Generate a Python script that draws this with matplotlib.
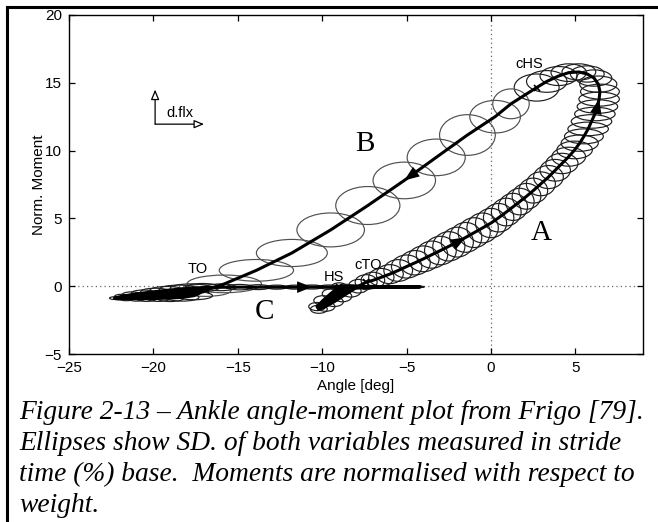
import matplotlib.pyplot as plt
from matplotlib.patches import Ellipse
from matplotlib.lines import Line2D

# mean ankle angle [deg] / normalised moment per stride sample, with SDs
# phase A: heel strike -> contralateral heel strike
angle_a = [-9.0, -9.5, -9.95, -10.3, -10.2, -9.8, -9.3, -8.8, -8.3, -7.85, -7.4,
           -7.0, -6.5, -6.0, -5.5, -5.0, -4.5, -4.0, -3.5, -3.0, -2.5, -2.0,
           -1.5, -1.0, -0.5, 0.0, 0.45, 0.9, 1.3, 1.7, 2.1, 2.5, 2.95, 3.4,
           3.8, 4.2, 4.6, 4.95, 5.25, 5.5, 5.75, 5.95, 6.15, 6.3, 6.4, 6.45,
           6.35, 6.1, 5.7, 5.2, 4.6, 4.0, 3.3, 2.7]
moment_a = [-0.05, -0.55, -1.05, -1.5, -1.7, -1.5, -1.15, -0.75, -0.35, 0.0, 0.3,
            0.43, 0.66, 0.89, 1.16, 1.45, 1.73, 2.02, 2.33, 2.63, 2.94, 3.25,
            3.6, 3.95, 4.3, 4.66, 5.05, 5.47, 5.85, 6.24, 6.63, 7.05, 7.55, 8.05,
            8.55, 9.05, 9.55, 10.05, 10.55, 11.05, 11.6, 12.15, 12.7, 13.25, 13.8, 14.35,
            14.9, 15.35, 15.65, 15.8, 15.75, 15.5, 15.1, 14.65]
sd_angle_a = [0.45, 0.5, 0.55, 0.5, 0.5, 0.55, 0.55, 0.55, 0.6, 0.6, 0.65,
              0.7, 0.75, 0.8, 0.85, 0.9, 0.9, 0.92, 0.93, 0.94, 0.95, 0.95,
              0.95, 0.95, 0.93, 0.92, 0.9, 0.88, 0.86, 0.85, 0.85, 0.85, 0.86, 0.88,
              0.9, 0.95, 1.0, 1.05, 1.1, 1.15, 1.2, 1.2, 1.2, 1.2, 1.2, 1.15,
              1.1, 1.05, 1.0, 1.0, 1.05, 1.1, 1.2, 1.33]
sd_moment_a = [0.3, 0.35, 0.35, 0.3, 0.3, 0.35, 0.35, 0.4, 0.45, 0.5, 0.55,
               0.6, 0.65, 0.7, 0.8, 0.85, 0.9, 0.95, 1.0, 1.05, 1.08, 1.1,
               1.1, 1.1, 1.1, 1.08, 1.05, 1.02, 1.0, 0.98, 0.95, 0.92, 0.88, 0.85,
               0.8, 0.75, 0.7, 0.65, 0.6, 0.55, 0.5, 0.5, 0.5, 0.5, 0.52, 0.55,
               0.6, 0.6, 0.6, 0.6, 0.65, 0.7, 0.8, 1.0]

# phase B: contralateral heel strike -> toe off
angle_b = [1.18, 0.24, -1.4, -3.25, -5.14, -7.3, -9.5, -11.8, -13.9, -15.8, -16.9]
moment_b = [13.45, 12.5, 11.15, 9.5, 7.8, 5.95, 4.15, 2.45, 1.17, 0.17, -0.3]
sd_angle_b = [1.08, 1.5, 1.65, 1.72, 1.85, 1.9, 2.0, 2.1, 2.2, 2.2, 1.5]
sd_moment_b = [1.1, 1.2, 1.5, 1.35, 1.35, 1.4, 1.25, 1.0, 0.8, 0.65, 0.45]

# phase C: swing, toe off -> next heel strike
angle_c = [-17.6, -18.3, -19.0, -19.7, -20.4, -21.0, -21.6, -22.0, -22.3,
           -21.9, -21.3, -20.6, -19.9, -19.2, -18.5, -17.8, -17.1,
           -16.0, -14.9, -13.8, -12.7, -11.6, -10.6, -9.6, -8.7, -7.8, -6.9,
           -6.1, -5.4, -4.8, -4.4, -4.2, -4.4, -4.9, -5.6, -6.4, -7.2, -8.0, -8.6]
moment_c = [-0.7, -0.82, -0.88, -0.9, -0.92, -0.92, -0.92, -0.9, -0.88,
            -0.75, -0.62, -0.5, -0.4, -0.3, -0.22, -0.15, -0.1,
            -0.08, -0.07, -0.07, -0.07, -0.07, -0.06, -0.06, -0.06, -0.06, -0.05,
            -0.05, -0.05, -0.05, -0.05, -0.05, -0.06, -0.06, -0.06, -0.06, -0.06, -0.06, -0.06]
sd_angle_c = [1.1, 1.0, 0.8, 0.7, 0.6, 0.5, 0.4, 0.35, 0.3,
              0.4, 0.55, 0.7, 0.85, 1.0, 1.15, 1.2, 1.0,
              0.9, 0.8, 0.7, 0.6, 0.6, 0.6, 0.6, 0.6, 0.6, 0.55,
              0.5, 0.45, 0.4, 0.3, 0.25, 0.3, 0.35, 0.4, 0.45, 0.45, 0.45, 0.45]
sd_moment_c = [0.3, 0.28, 0.25, 0.22, 0.2, 0.18, 0.15, 0.12, 0.1,
               0.15, 0.2, 0.22, 0.25, 0.28, 0.3, 0.32, 0.3,
               0.25, 0.2, 0.18, 0.15, 0.15, 0.15, 0.15, 0.15, 0.12, 0.1,
               0.1, 0.08, 0.08, 0.06, 0.05, 0.06, 0.08, 0.1, 0.1, 0.12, 0.15, 0.2]

events = ['HS', 'cTO', 'cHS', 'TO']
event_text_pos = [(-9.3, 0.66), (-7.3, 1.55), (2.25, 16.4), (-17.4, 1.25)]

caption = ['Figure 2-13 \u2013 Ankle angle-moment plot from Frigo [79].',
           'Ellipses show SD. of both variables measured in stride',
           'time (%) base.  Moments are normalised with respect to',
           'weight.']

n_a, n_b = len(angle_a), len(angle_b)
angle = angle_a + angle_b + angle_c
moment = moment_a + moment_b + moment_c
sd_angle = sd_angle_a + sd_angle_b + sd_angle_c
sd_moment = sd_moment_a + sd_moment_b + sd_moment_c
event_idx = [0, 10, n_a - 1, n_a + n_b - 1]

fig = plt.figure(figsize=(6.58, 5.22), dpi=100)
ax = fig.add_axes([69 / 658, 1 - 354 / 522, 574 / 658, 339 / 522])

# SD ellipses (B ones are fainter in print)
for k, (x, y, sx, sy) in enumerate(zip(angle, moment, sd_angle, sd_moment)):
    col = '#505050' if n_a <= k < n_a + n_b else '#1e1e1e'
    ax.add_patch(Ellipse((x, y), 2 * sx, 2 * sy, fill=False, lw=0.85, ec=col))

# loading dip after heel strike and the plantarflexion spike after toe off are solid black
ax.fill(angle[0:9], moment[0:9], color='k', lw=1.5, zorder=3)
toe = n_a + n_b - 1
ax.fill(angle[toe:toe + 18], moment[toe:toe + 18], color='k', lw=1, zorder=3)

# mean loop (closed back to heel strike)
ax.plot(angle + angle[:1], moment + moment[:1], color='k', lw=2.2, solid_capstyle='round', zorder=3)

# direction arrows
for i in [22, 44, n_a + 4, n_a + n_b + 22]:
    ax.annotate('', xy=(angle[i], moment[i]), xytext=(angle[i - 1], moment[i - 1]),
                arrowprops=dict(arrowstyle='-|>,head_length=0.9,head_width=0.35',
                                color='k', lw=0, shrinkA=0, shrinkB=0, mutation_scale=12),
                zorder=4)

# gait events
for name, i, pos in zip(events, event_idx, event_text_pos):
    ax.plot(angle[i], moment[i], 'x', color='k', ms=5, mew=1.2, zorder=4)
    ax.text(pos[0], pos[1], name, fontsize=10.5, family='Liberation Sans', ha='center', va='center')

# phase letters
for letter, pos in zip(['A', 'B', 'C'], [(3.0, 3.9), (-7.5, 10.5), (-13.4, -1.9)]):
    ax.text(pos[0], pos[1], letter, fontsize=21, family='Liberation Serif', ha='center', va='center')

# d.flx direction key
ax.annotate('', xy=(-19.9, 14.5), xytext=(-19.9, 11.95),
            arrowprops=dict(arrowstyle='-|>,head_length=0.6,head_width=0.25', fc='white', ec='k',
                            lw=0.9, shrinkA=0, shrinkB=0, mutation_scale=10))
ax.annotate('', xy=(-17.0, 11.95), xytext=(-19.9, 11.95),
            arrowprops=dict(arrowstyle='-|>,head_length=0.6,head_width=0.25', fc='white', ec='k',
                            lw=0.9, shrinkA=0, shrinkB=0, mutation_scale=10))
ax.text(-18.45, 12.75, 'd.flx', fontsize=10.5, family='Liberation Sans', ha='center', va='center')

ax.axhline(0, color='#666', lw=0.9, ls=(0, (1, 2.5)), zorder=0)
ax.axvline(0, color='#666', lw=0.9, ls=(0, (1, 2.5)), zorder=0)

ax.set_xlim(-25, 9)
ax.set_ylim(-5, 20)
ax.set_xticks([-25, -20, -15, -10, -5, 0, 5])
ax.set_yticks([-5, 0, 5, 10, 15, 20])
ax.tick_params(direction='in', top=True, right=True, length=4, width=0.9, labelsize=11, pad=5)
for lab in ax.get_xticklabels() + ax.get_yticklabels():
    lab.set_family('Liberation Sans')
for s in ax.spines.values():
    s.set_linewidth(1.0)
ax.set_xlabel('Angle [deg]', fontsize=11, family='Liberation Sans', labelpad=3)
ax.set_ylabel('Norm. Moment', fontsize=11, family='Liberation Sans', labelpad=-1)

# frame around the figure
fig.add_artist(Line2D([7 / 658, 1], [1 - 7 / 522, 1 - 7 / 522], transform=fig.transFigure, color='k', lw=2.2))
fig.add_artist(Line2D([7 / 658, 7 / 658], [0, 1 - 7 / 522], transform=fig.transFigure, color='k', lw=2.2))

for k, line in enumerate(caption):
    fig.text(19 / 658, 1 - (419 + 31 * k) / 522, line, fontsize=19.8, family='Liberation Serif',
             style='italic', va='baseline', ha='left')

fig.savefig('out.png', dpi=100)
